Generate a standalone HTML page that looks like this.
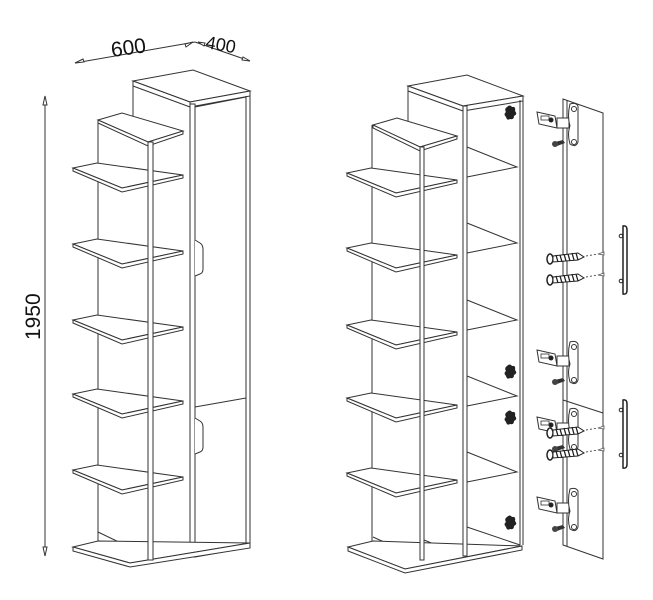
<!DOCTYPE html>
<html><head><meta charset="utf-8"><style>
html,body{margin:0;padding:0;background:#fff;}
svg{display:block}
</style></head><body>
<svg width="653" height="600" viewBox="0 0 653 600" xmlns="http://www.w3.org/2000/svg">
<defs>
<g id="shelf">
  <polygon points="0,0 24,-5 110,7 49,20" fill="#fff" stroke="#333" stroke-width="1"/>
  <polygon points="0,0 0,3 49,24 110,10 110,7 49,20" fill="#fff" stroke="#333" stroke-width="1"/>
</g>
<g id="blob"><path d="M-3,-6 q3,-3 5,0 q4,-1 3,4 q3,3 -1,5 q0,4 -4,3 q-3,2 -4,-2 q-3,-3 0,-5 q-2,-3 1,-5z" fill="#222"/></g>
<g id="hinge">
  <polygon points="0,0 18,4 20,16 2,12" fill="#fff" stroke="#333"/>
  <rect x="4" y="4" width="8" height="4" fill="none" stroke="#333" stroke-width="0.8"/>
  <circle cx="14" cy="8" r="2.5" fill="#222"/>
  <path d="M20,6 h12 v10 h-12z" fill="#fff" stroke="#333"/>
  <path d="M33,-8 q6,-2 8,2 v36 q-2,6 -8,2 q-3,-10 0,-18 q-3,-10 0,-22z" fill="#fff" stroke="#333"/>
  <circle cx="37" cy="-3" r="2.5" fill="none" stroke="#333"/>
  <circle cx="37" cy="30" r="2.5" fill="none" stroke="#333"/>
  <path d="M18,30 l8,-2 l2,3 l-8,3z" fill="#333"/>
  <circle cx="18" cy="32" r="3" fill="#444"/>
</g>
<g id="screw">
  <ellipse cx="0" cy="0" rx="3" ry="5" fill="#fff" stroke="#222" stroke-width="1.5"/>
  <path d="M3,-3 L28,-6 L34,-2 L28,1 L3,3z" fill="#fff" stroke="#222"/>
  <path d="M6,-4 l2,7 M10,-4 l2,7 M14,-5 l2,7 M18,-5 l2,7 M22,-6 l2,7 M26,-6 l2,7" stroke="#222" stroke-width="1.3"/>
  <path d="M36,-3 L48,-5" stroke="#555" stroke-dasharray="2,2"/>
  <path d="M48,-5 l6,-2 v3z" fill="#fff" stroke="#555" stroke-width="0.8"/>
</g>
<g id="handle">
  <path d="M0,0 q4,-1 4,4 v60 q0,5 -4,4z" fill="#fff" stroke="#222" stroke-width="1.5"/>
  <circle cx="-2" cy="10" r="1.8" fill="none" stroke="#222"/>
  <circle cx="-2" cy="55" r="1.8" fill="none" stroke="#222"/>
</g>
</defs>

<g fill="none" stroke="#333" stroke-width="1">
<!-- dimensions -->
<line x1="75" y1="63" x2="195" y2="42"/>
<path d="M75,63 l8,-4 l1,3z" fill="#fff"/>
<path d="M185,44 l8,-2 l-7,5z" fill="#fff"/>
<line x1="195" y1="42" x2="250" y2="61"/>
<path d="M198,42 l7,1 l-1,3z" fill="#fff"/>
<path d="M250,61 l-8,-1 l1,-3z" fill="#fff"/>
<line x1="45" y1="96" x2="45" y2="556"/>
<path d="M45,96 l-2,9 h4z" fill="#fff"/>
<path d="M45,556 l-2,-9 h4z" fill="#fff"/>
</g>
<g font-family="Liberation Sans, sans-serif" fill="#111">
<text x="112" y="57" font-size="21" transform="rotate(-8 112 57)">600</text>
<text x="205" y="48" font-size="18" transform="rotate(10 205 48)">400</text>
<text x="40" y="340" font-size="21" transform="rotate(-90 40 340)">1950</text>
</g>

<!-- LEFT CABINET -->
<g fill="#fff" stroke="#333" stroke-width="1">
<line x1="98" y1="120" x2="98" y2="545"/>
<line x1="133" y1="86" x2="133" y2="118"/>
<polygon points="133,81 193,70 250,91 190,102"/>
<polygon points="133,81 133,86 190,107 190,102"/>
<polygon points="190,102 250,91 250,96 190,107"/>
<rect x="190" y="104" width="5" height="453" />
<polygon points="195,107 246,97 246,548 195,557" fill="#fff"/>
<line x1="246" y1="96" x2="246" y2="548"/>
<line x1="250" y1="96" x2="250" y2="546"/>
<line x1="195" y1="407" x2="246" y2="398"/>
<path d="M195,240 l5,3 q3,2 3,6 v20 q0,4 -3,5 l-5,2"/>
<path d="M195,418 l5,3 q3,2 3,6 v20 q0,4 -3,5 l-5,2"/>
<!-- step -->
<polygon points="98,120 122,113 183,131 148,142"/>
<polygon points="98,120 98,123 148,146 183,134 183,131 148,142"/>
<use href="#shelf" x="73" y="168"/>
<use href="#shelf" x="73" y="244"/>
<use href="#shelf" x="73" y="320"/>
<use href="#shelf" x="73" y="394"/>
<use href="#shelf" x="73" y="470"/>
<line x1="98" y1="532" x2="148" y2="556"/>
<!-- base -->
<polygon points="73,547 98,541 250,543 130,563"/>
<polygon points="73,547 73,551 130,567 250,548 250,543 130,563"/>
<rect x="148" y="142" width="5" height="418"/>
</g>

<!-- RIGHT CABINET -->
<g fill="#fff" stroke="#333" stroke-width="1">
<line x1="372" y1="125" x2="372" y2="548"/>
<line x1="408" y1="91" x2="408" y2="123"/>
<polygon points="408,86 467,75 523,96 463,106"/>
<polygon points="408,86 408,91 463,111 463,106"/>
<polygon points="463,106 523,96 523,101 463,111"/>
<line x1="520" y1="100" x2="520" y2="545"/>
<line x1="523" y1="100" x2="523" y2="545"/>
<polyline points="467,147 517,167 467,177" fill="none"/>
<polyline points="467,223 517,243 467,253" fill="none"/>
<polyline points="467,300 517,320 467,330" fill="none"/>
<polyline points="467,376 517,396 467,406" fill="none"/>
<polyline points="467,452 517,472 467,482" fill="none"/>
<line x1="467" y1="527" x2="520" y2="545"/>
<polygon points="373,125 397,118 457,136 420,147"/>
<polygon points="373,125 373,128 420,151 457,139 457,136 420,147"/>
<use href="#shelf" x="347" y="173"/>
<use href="#shelf" x="347" y="248"/>
<use href="#shelf" x="347" y="325"/>
<use href="#shelf" x="347" y="398"/>
<use href="#shelf" x="347" y="473"/>
<line x1="373" y1="537" x2="420" y2="558"/>
<line x1="424" y1="540" x2="463" y2="556"/>
<polygon points="348,547 373,541 522,546 405,569"/>
<polygon points="348,547 348,551 405,573 522,550 522,546 405,569"/>
<rect x="420" y="147" width="4" height="413"/>
<rect x="463" y="106" width="4" height="450"/>
</g>
<use href="#blob" x="510" y="113"/>
<use href="#blob" x="510" y="372"/>
<use href="#blob" x="510" y="418"/>
<use href="#blob" x="510" y="523"/>

<!-- DOOR PANEL -->
<g fill="#fff" stroke="#333" stroke-width="1">
<polygon points="563,99 603,113 603,559 563,545"/>
<line x1="563" y1="400" x2="603" y2="413"/>
<line x1="567" y1="100" x2="567" y2="546"/>
</g>
<use href="#hinge" x="537" y="112"/>
<use href="#hinge" x="537" y="350"/>
<use href="#hinge" x="537" y="417"/>
<use href="#hinge" x="537" y="497"/>
<use href="#screw" x="550" y="259"/>
<use href="#screw" x="550" y="280"/>
<use href="#screw" x="550" y="433"/>
<use href="#screw" x="550" y="455"/>
<use href="#handle" x="623" y="226"/>
<use href="#handle" x="623" y="400"/>
</svg>
</body></html>
